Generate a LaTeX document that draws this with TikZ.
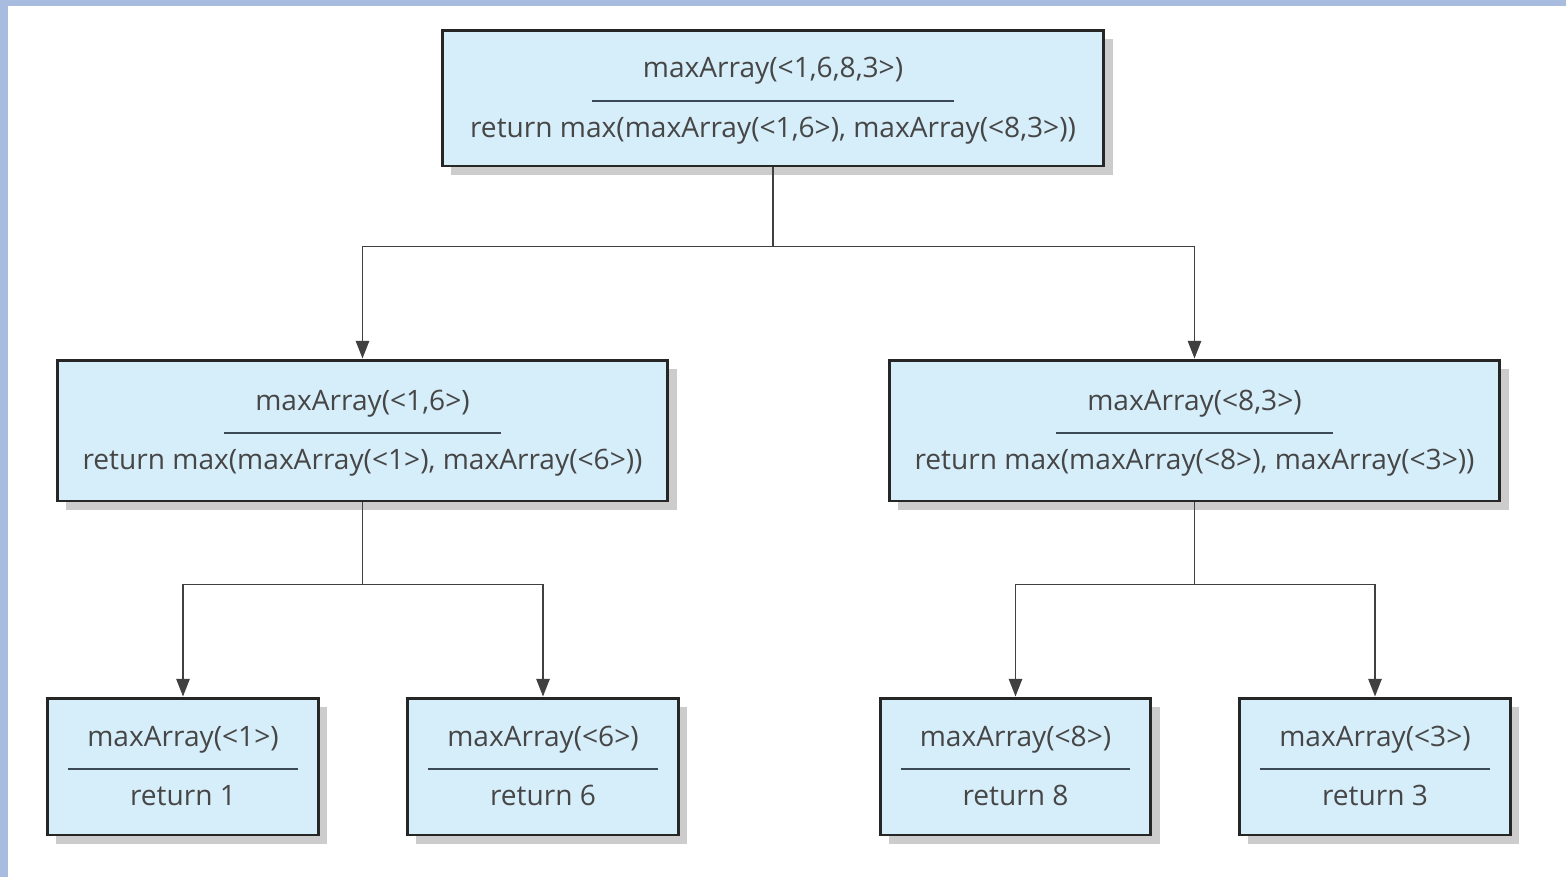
\documentclass[tikz,border=0pt]{standalone}
\usepackage{fontspec}
\setmainfont{Open Sans}
\usetikzlibrary{arrows.meta, shadows}

\definecolor{callfill}{RGB}{214,238,250}
\definecolor{calltext}{RGB}{70,70,70}
\definecolor{callrule}{RGB}{60,74,85}
\definecolor{framebar}{RGB}{168,188,224}
\definecolor{shadowgray}{RGB}{204,204,204}

% title, rule, return value of one call
\newcommand{\callbox}[3]{\rule{0pt}{\dimexpr0.7\baselineskip+4pt\relax}#1\\ \textcolor{callrule}{\rule[0.2\baselineskip]{#2}{1.1pt}}\\ #3\strut}

\begin{document}
\begin{tikzpicture}[x=0.02cm, y=-0.02cm,
        call/.style={draw=black!85, line width=1.7pt, fill=callfill, align=center, text=calltext,
            font=\fontsize{16}{17}\selectfont, inner sep=0pt,
            drop shadow={shadow xshift=5pt, shadow yshift=-5pt, fill=shadowgray, opacity=1}},
        big/.style={call, minimum width=13.24cm, minimum height=2.72cm},
        mid/.style={call, minimum width=12.22cm, minimum height=2.82cm},
        leaf/.style={call, minimum width=5.42cm, minimum height=2.74cm},
        arr/.style={-{Triangle[length=10pt, width=7.5pt]}, line width=1.1pt, black!75}]

        % page with the blue frame on top and left
        \fill[white] (0, 0) rectangle (1566, 877);
        \fill[framebar] (0, 0) rectangle (1566, 6);
        \fill[framebar] (0, 0) rectangle (8, 877);
        \useasboundingbox (0, 0) rectangle (1566, 877);

        \node[big] (root) at (773, 98) {\callbox{maxArray(<1,6,8,3>)}{7.26cm}{return max(maxArray(<1,6>), maxArray(<8,3>))}};

        \node[mid] (left) at (362.5, 430.5) {\callbox{maxArray(<1,6>)}{5.54cm}{return max(maxArray(<1>), maxArray(<6>))}};
        \node[mid] (right) at (1194.5, 430.5) {\callbox{maxArray(<8,3>)}{5.54cm}{return max(maxArray(<8>), maxArray(<3>))}};

        \foreach \name/\x/\v in {one/183/1, six/543/6, eight/1015.5/8, three/1375/3} {
            \node[leaf] (\name) at (\x, 766.5) {\callbox{maxArray(<\v>)}{4.6cm}{return \v}};
        }

        \draw[arr] (root.south) -- ++(0, -1.58cm) -| (left.north);
        \draw[arr] (root.south) -- ++(0, -1.58cm) -| (right.north);

        \draw[arr] (left.south) -- ++(0, -1.64cm) -| (one.north);
        \draw[arr] (left.south) -- ++(0, -1.64cm) -| (six.north);
        \draw[arr] (right.south) -- ++(0, -1.64cm) -| (eight.north);
        \draw[arr] (right.south) -- ++(0, -1.64cm) -| (three.north);

\end{tikzpicture}
\end{document}
